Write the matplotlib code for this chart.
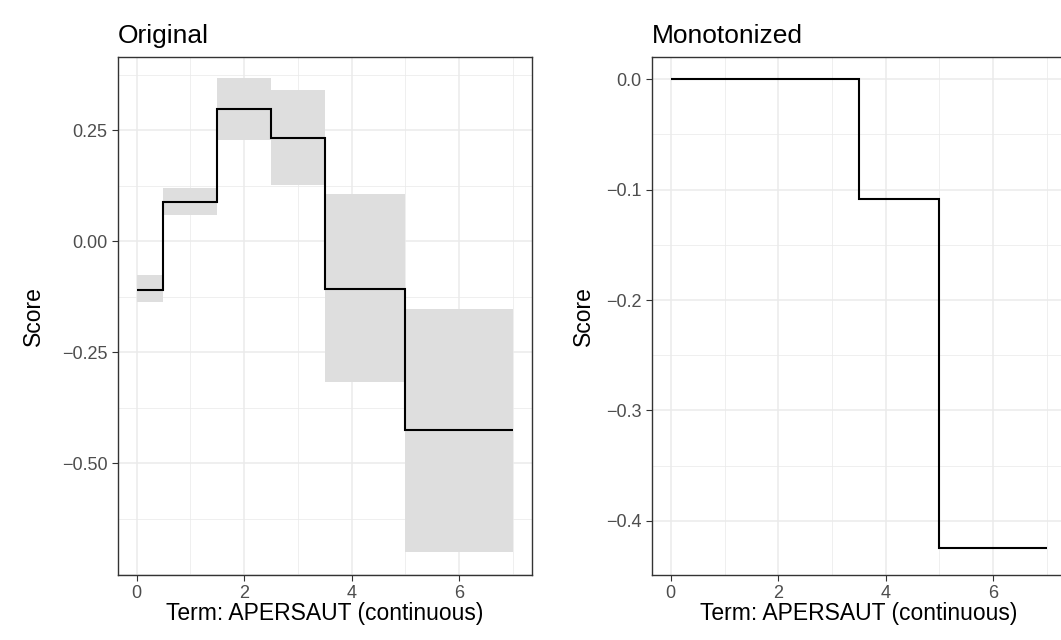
import numpy as np
import matplotlib.pyplot as plt
from matplotlib.ticker import AutoMinorLocator

plt.rcParams['font.family'] = ['Liberation Sans', 'DejaVu Sans']

# bin edges and scores
edges = [0, 0.5, 1.5, 2.5, 3.5, 5, 7]
orig_score = [-0.11, 0.087, 0.297, 0.232, -0.108, -0.425]
orig_lo = [-0.137, 0.059, 0.227, 0.126, -0.318, -0.70]
orig_hi = [-0.077, 0.119, 0.367, 0.34, 0.106, -0.153]
mono_edges = [0, 3.5, 5, 7]
mono_score = [0.0, -0.108, -0.425]

fig = plt.figure(figsize=(10.61, 6.4), dpi=100)
ax1 = fig.add_axes([0.111, 0.1016, 0.39, 0.809])
ax2 = fig.add_axes([0.6145, 0.1016, 0.39, 0.809])


def style(ax, yticks, ylabels, ylim, ypad):
    ax.set_xlim(-0.35, 7.35)
    ax.set_ylim(*ylim)
    ax.set_xticks([0, 2, 4, 6])
    ax.set_yticks(yticks)
    ax.set_yticklabels(ylabels)
    ax.xaxis.set_minor_locator(AutoMinorLocator(2))
    ax.yaxis.set_minor_locator(AutoMinorLocator(2))
    ax.grid(which='major', color='#ebebeb', lw=1.1)
    ax.grid(which='minor', color='#ebebeb', lw=0.55)
    ax.set_axisbelow(True)
    for s in ax.spines.values():
        s.set_color('#333333')
        s.set_linewidth(1.0)
    ax.tick_params(which='major', colors='#333333', labelcolor='#4d4d4d',
                   labelsize=13, length=4)
    ax.tick_params(which='minor', length=0)
    ax.set_xlabel('Term: APERSAUT (continuous)', fontsize=16.5, labelpad=0)
    ax.set_ylabel('Score', fontsize=16.5, labelpad=ypad)


for i in range(len(orig_score)):
    ax1.fill_between([edges[i], edges[i + 1]], orig_lo[i], orig_hi[i],
                     color='#dedede', lw=0, zorder=1)
ax1.stairs(orig_score, edges, baseline=None, color='black', lw=1.5, zorder=3)
ax1.set_title('Original', loc='left', fontsize=19, pad=10)
style(ax1, [0.25, 0.0, -0.25, -0.5], ['0.25', '0.00', '\u22120.25', '\u22120.50'],
      (-0.752, 0.414), 12)

ax2.stairs(mono_score, mono_edges, baseline=None, color='black', lw=1.5, zorder=3)
ax2.set_title('Monotonized', loc='left', fontsize=19, pad=10)
style(ax2, [0.0, -0.1, -0.2, -0.3, -0.4],
      ['0.0', '\u22120.1', '\u22120.2', '\u22120.3', '\u22120.4'], (-0.449, 0.02), 8)

fig.savefig('out.png', dpi=100)
